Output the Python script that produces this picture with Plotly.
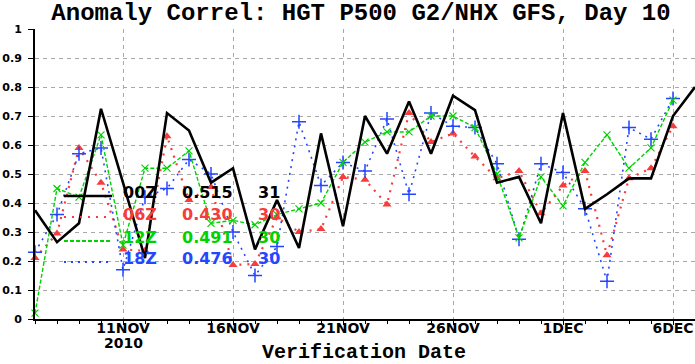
import plotly.graph_objects as go
import pandas as pd

# ---------------- data ----------------
dates_00z = pd.date_range("2010-11-07", "2010-12-07", freq="D")
dates_other = pd.date_range("2010-11-07", "2010-12-06", freq="D")

ac_00z = [0.375, 0.265, 0.33, 0.725, 0.47, 0.21, 0.71, 0.65, 0.47, 0.52,
          0.24, 0.41, 0.245, 0.64, 0.32, 0.70, 0.57, 0.75, 0.57, 0.77,
          0.72, 0.47, 0.49, 0.33, 0.71, 0.38, 0.43, 0.485, 0.485, 0.70, 0.80]
ac_06z = [0.21, 0.295, 0.59, 0.47, 0.24, 0.235, 0.63, 0.41, 0.455, 0.186,
          0.19, 0.35, 0.30, 0.31, 0.49, 0.48, 0.395, 0.71, 0.61, 0.64,
          0.56, 0.485, 0.51, 0.365, 0.46, 0.51, 0.22, 0.485, 0.52, 0.665]
ac_12z = [0.02, 0.45, 0.42, 0.635, 0.255, 0.52, 0.52, 0.58, 0.33, 0.34,
          0.325, 0.36, 0.38, 0.40, 0.54, 0.61, 0.645, 0.645, 0.70, 0.70,
          0.66, 0.50, 0.28, 0.49, 0.39, 0.54, 0.635, 0.52, 0.59, 0.755]
ac_18z = [0.23, 0.36, 0.57, 0.59, 0.17, 0.42, 0.45, 0.55, 0.50, 0.30,
          0.15, 0.25, 0.68, 0.46, 0.54, 0.51, 0.69, 0.43, 0.71, 0.665,
          0.66, 0.535, 0.275, 0.535, 0.505, 0.38, 0.13, 0.66, 0.62, 0.76]

cycle_names = ["00Z", "06Z", "12Z", "18Z"]
cycle_means = ["0.515", "0.430", "0.491", "0.476"]
cycle_counts = ["31", "30", "30", "30"]

tick_vals = ["2010-11-11", "2010-11-16", "2010-11-21", "2010-11-26", "2010-12-01", "2010-12-06"]
tick_text = ["11NOV", "16NOV", "21NOV", "26NOV", "1DEC", "6DEC"]
year_label = "2010"
y_ticks = [0, 0.1, 0.2, 0.3, 0.4, 0.5, 0.6, 0.7, 0.8, 0.9, 1]
y_tick_text = ["0", "0.1", "0.2", "0.3", "0.4", "0.5", "0.6", "0.7", "0.8", "0.9", "1"]

# ---------------- styles ----------------
BLACK = "#000000"
RED = "#f63c3c"
GREEN = "#00d200"
BLUE = "#2346ff"
GRID = "#a8a8a8"
TXT = "DejaVu Sans"
SERIF = "Liberation Mono"

W, H = 695, 364
L, R, T, B = 35, 0, 29, 45
PW, PH = W - L - R, H - T - B

def px(xp):
    return (xp - L) / PW

def py(yp):
    return (H - B - yp) / PH

fig = go.Figure()

fig.add_trace(go.Scatter(x=dates_other, y=ac_06z, mode="lines+markers",
                         line=dict(color=RED, width=2.2, dash="2px,6px"),
                         marker=dict(symbol="triangle-up", size=8, color=RED),
                         showlegend=False, cliponaxis=False))
fig.add_trace(go.Scatter(x=dates_other, y=ac_18z, mode="lines+markers",
                         line=dict(color=BLUE, width=1.6, dash="2px,5px"),
                         marker=dict(symbol="cross-thin", size=10,
                                     line=dict(color=BLUE, width=1.5)),
                         showlegend=False, cliponaxis=False))
fig.add_trace(go.Scatter(x=dates_other, y=ac_12z, mode="lines+markers",
                         line=dict(color=GREEN, width=1.4, dash="4px,2px"),
                         marker=dict(symbol="x-thin", size=7,
                                     line=dict(color=GREEN, width=1.2)),
                         showlegend=False, cliponaxis=False))
fig.add_trace(go.Scatter(x=dates_00z, y=ac_00z, mode="lines",
                         line=dict(color=BLACK, width=2.6),
                         showlegend=False, cliponaxis=False))

# ---------------- in-plot legend ----------------
row_text_y = [192, 214, 237, 258]
row_line_y = [196, 217, 241, 262]
line_styles = [dict(color=BLACK, width=2.6),
               dict(color=RED, width=2.2, dash="2px,6px"),
               dict(color=GREEN, width=1.8, dash="4px,2px"),
               dict(color=BLUE, width=2.0, dash="2px,5px")]
colors = [BLACK, RED, GREEN, BLUE]
shapes = []
annotations = []
for i in range(4):
    shapes.append(dict(type="line", xref="paper", yref="paper",
                       x0=px(64), x1=px(112), y0=py(row_line_y[i]), y1=py(row_line_y[i]),
                       line=line_styles[i]))
    for txt, xp in ((cycle_names[i], 121), (cycle_means[i], 180), (cycle_counts[i], 256)):
        annotations.append(dict(text=txt, xref="paper", yref="paper",
                                x=px(xp), y=py(row_text_y[i]), xanchor="left", yanchor="middle",
                                showarrow=False,
                                font=dict(family=TXT, size=16, color=colors[i], weight="bold")))

annotations.append(dict(text=year_label, xref="x", yref="paper",
                        x=tick_vals[0], y=py(343), xanchor="center", yanchor="middle",
                        showarrow=False,
                        font=dict(family=TXT, size=14, color=BLACK, weight="bold")))
annotations.append(dict(text="Verification Date", xref="paper", yref="paper",
                        x=px(364), y=py(352), xanchor="center", yanchor="middle",
                        showarrow=False,
                        font=dict(family=SERIF, size=20, color=BLACK, weight="bold")))

fig.update_layout(
    width=W, height=H,
    margin=dict(l=L, r=R, t=T, b=B, autoexpand=False),
    paper_bgcolor="white", plot_bgcolor="white",
    title=dict(text="Anomaly Correl: HGT P500 G2/NHX GFS, Day 10",
               x=px(361), xref="paper", xanchor="center",
               yref="container", y=1 - 12 / H, yanchor="middle", automargin=False,
               font=dict(family=SERIF, size=24, color=BLACK, weight="bold")),
    shapes=shapes,
    annotations=annotations,
    showlegend=False,
)

fig.update_xaxes(
    type="date", range=["2010-11-07", "2010-12-07"], automargin=False,
    tickmode="array", tickvals=tick_vals, ticktext=tick_text,
    ticks="outside", ticklen=4, tickwidth=1, tickcolor=BLACK,
    showline=True, linecolor=BLACK, linewidth=2,
    showgrid=True, gridcolor=GRID, gridwidth=1, griddash="4px,4px",
    zeroline=False, ticklabelstandoff=-9,
    tickfont=dict(family=TXT, size=14, color=BLACK, weight="bold"),
    minor=dict(tickmode="linear", tick0="2010-11-07", dtick=86400000,
               ticks="outside", ticklen=3, tickcolor=BLACK, showgrid=False),
)
fig.update_yaxes(
    range=[0, 1], automargin=False, tickmode="array", tickvals=y_ticks, ticktext=y_tick_text,
    ticks="outside", ticklen=5, tickwidth=1, tickcolor=BLACK,
    showline=True, linecolor=BLACK, linewidth=2,
    showgrid=True, gridcolor=GRID, gridwidth=1, griddash="4px,4px",
    zeroline=False,
    tickfont=dict(family=TXT, size=11, color=BLACK, weight="bold"),
    ticklabelstandoff=4,
)

fig.write_html("out.html", config={"displayModeBar": False},
               post_script="document.body.style.margin='0';document.body.style.overflow='hidden';")
